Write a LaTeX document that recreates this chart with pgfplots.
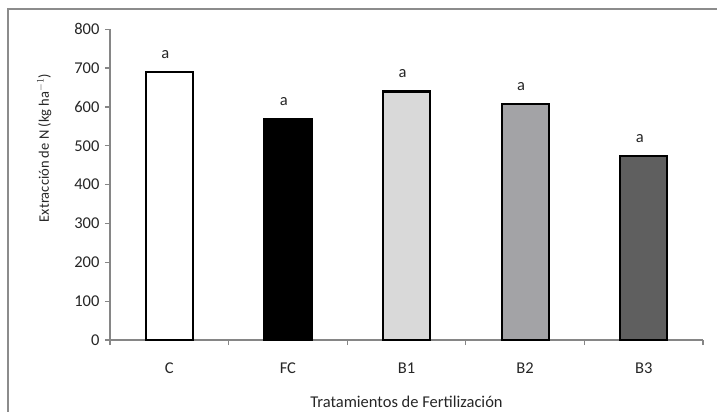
\documentclass[border=0pt]{standalone}
\usepackage{fontspec}
\setmainfont{Carlito}
\usepackage{pgfplots}
\pgfplotsset{compat=1.18}

\definecolor{axisgray}{HTML}{868686}
\definecolor{frame}{HTML}{8C8C8C}
\definecolor{barB1}{HTML}{D9D9D9}
\definecolor{barB2}{HTML}{A3A3A6}
\definecolor{barB3}{HTML}{5F5F5F}
\definecolor{txt}{HTML}{262626}

\newcommand{\chartfont}{\fontsize{16.5}{19}\selectfont}

\begin{document}
\begin{tikzpicture}
% page area and outer chart frame
\path[use as bounding box, clip] (-110pt,-72pt) rectangle (607pt,340pt);
\draw[frame, line width=1.6pt] (-102pt,-90pt) -- (-102pt,331pt) -- (640pt,331pt);

\begin{axis}[
  scale only axis,
  width=593pt, height=310.7pt,
  xmin=-0.5, xmax=4.5,
  ymin=0, ymax=800,
  ytick={0,100,...,800},
  xtick={0,1,2,3,4},
  xticklabels={C,FC,B1,B2,B3},
  minor xtick={-0.5,0.5,1.5,2.5,3.5,4.5},
  axis lines=left,
  axis line style={-, draw=axisgray, line width=1.3pt},
  tick align=outside,
  major tick length=5pt,
  minor tick length=5pt,
  major x tick style={draw=none},
  minor x tick style={draw=axisgray, line width=1.3pt},
  ytick style={draw=axisgray, line width=1.3pt},
  tick label style={text=txt, font=\chartfont},
  /pgf/number format/assume math mode=true,
  yticklabel style={xshift=-2pt},
  xticklabel style={yshift=-14pt},
  xlabel={Tratamientos de Fertilización},
  xlabel style={at={(axis description cs:0.5,-0.199)}, anchor=center, text=txt, font=\chartfont},
  ylabel={Extracción de N (kg ha$^{-1}$)},
  ylabel style={at={(axis description cs:-0.111,0.618)}, anchor=center, rotate=0, text=txt, font=\fontsize{14.5}{17}\selectfont},
  ybar, bar width=47pt, bar shift=0pt,
  every axis plot/.append style={draw=black, line width=2.2pt},
  nodes near coords={a},
  every node near coord/.append style={text=txt, yshift=9pt, xshift=-4pt, font=\chartfont},
  clip=false,
]
\addplot[fill=white] coordinates {(0,690)};
\addplot[fill=black] coordinates {(1,570)};
\addplot[fill=barB1] coordinates {(2,640)};
\addplot[fill=barB2] coordinates {(3,607)};
\addplot[fill=barB3] coordinates {(4,473)};
\end{axis}
\end{tikzpicture}
\end{document}
